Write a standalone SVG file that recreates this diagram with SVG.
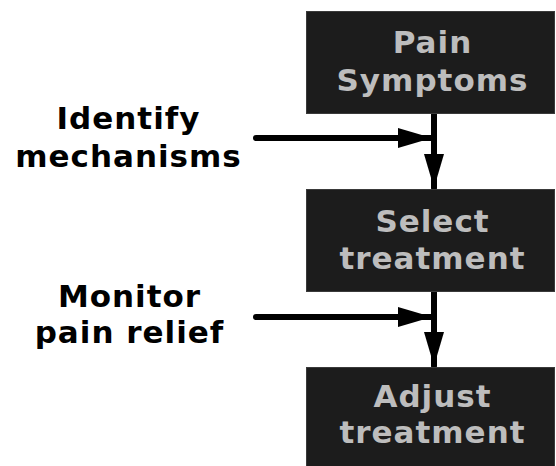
<svg xmlns="http://www.w3.org/2000/svg" width="556" height="466" viewBox="0 0 556 466">
<style>
.box{fill:#1c1c1c;stroke:#3a3a3a;stroke-width:1}
.bt{font-family:"DejaVu Sans",Verdana,sans-serif;font-weight:bold;font-size:31px;letter-spacing:1px;fill:#bdbdbd;text-anchor:middle}
.lt{font-family:"DejaVu Sans",Verdana,sans-serif;font-weight:bold;font-size:31px;letter-spacing:1px;fill:#000;text-anchor:middle}
.ln{stroke:#000;stroke-width:6;stroke-linecap:round;fill:none}
</style>
<defs>
<marker id="ah" viewBox="0 0 34 20" refX="34" refY="10" markerWidth="34" markerHeight="20" markerUnits="userSpaceOnUse" orient="auto">
<path d="M0,0 L34,10 L0,20 Z" fill="#000"/>
</marker>
</defs>
<rect width="556" height="466" fill="#fff"/>
<g id="connectors">
<line class="ln" x1="434" y1="114" x2="434" y2="188" marker-end="url(#ah)"/>
<line class="ln" x1="256" y1="138" x2="432" y2="138" marker-end="url(#ah)"/>
<line class="ln" x1="434" y1="292" x2="434" y2="366" marker-end="url(#ah)"/>
<line class="ln" x1="256" y1="317" x2="432" y2="317" marker-end="url(#ah)"/>
</g>
<g id="pain-symptoms">
<rect class="box" x="306.5" y="11.5" width="248" height="102"/>
<text class="bt" x="432.5" y="53">Pain</text>
<text class="bt" x="432.5" y="91">Symptoms</text>
</g>
<g id="select-treatment">
<rect class="box" x="306.5" y="189.5" width="248" height="102"/>
<text class="bt" x="432.5" y="232">Select</text>
<text class="bt" x="432.5" y="269">treatment</text>
</g>
<g id="adjust-treatment">
<rect class="box" x="306.5" y="367.5" width="248" height="102"/>
<text class="bt" x="432.5" y="407">Adjust</text>
<text class="bt" x="432.5" y="443">treatment</text>
</g>
<g id="identify-mechanisms">
<text class="lt" x="128.5" y="129">Identify</text>
<text class="lt" x="128.5" y="167">mechanisms</text>
</g>
<g id="monitor-pain-relief">
<text class="lt" x="129.5" y="307">Monitor</text>
<text class="lt" x="129.5" y="343">pain relief</text>
</g>
</svg>
